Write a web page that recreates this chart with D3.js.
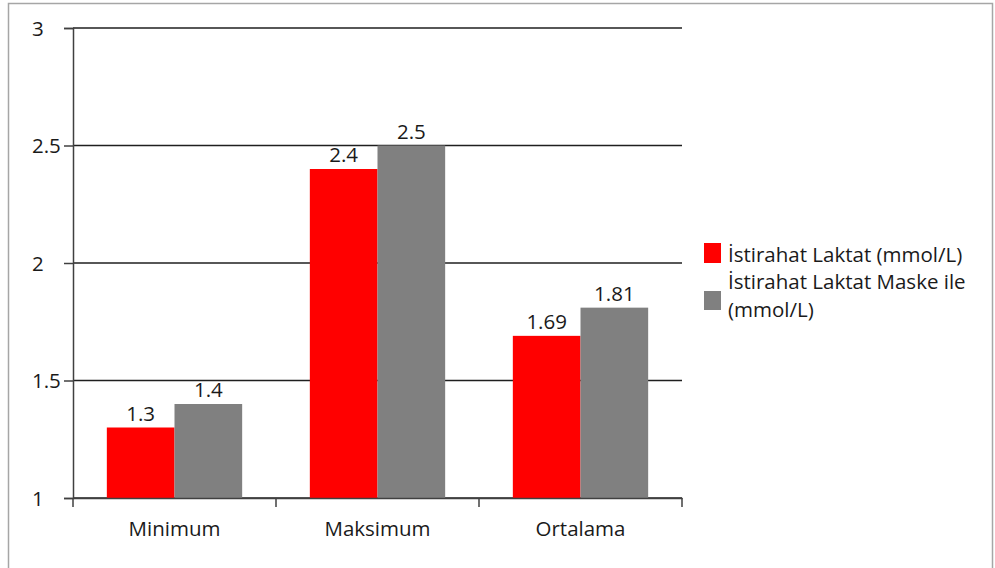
<!DOCTYPE html>
<html>
<head>
<meta charset="utf-8">
<script src="https://cdn.jsdelivr.net/npm/d3@7"></script>
<style>
  html, body { margin: 0; padding: 0; background: #fff; }
  svg { display: block; }
  text { font-family: "Open Sans", sans-serif; fill: #1a1a1a; }
</style>
</head>
<body>
<svg id="chart" width="995" height="568"></svg>
<script>
// Lactate values per statistic
const categories = ["Minimum", "Maksimum", "Ortalama"];
const seriesNames = ["İstirahat Laktat (mmol/L)", "İstirahat Laktat Maske ile (mmol/L)"];
const restLactate = [1.3, 2.4, 1.69];
const maskLactate = [1.4, 2.5, 1.81];
const yTicks = [1, 1.5, 2, 2.5, 3];
const colors = ["#ff0000", "#808080"];

const FONT = "'Open Sans', sans-serif";
const FS = 20.5;

const svg = d3.select("#chart");

// outer frame
svg.append("path")
  .attr("d", "M8.5,568 V3.5 H992.5 V568")
  .attr("fill", "none")
  .attr("stroke", "#a6a6a6")
  .attr("stroke-width", 1.5);

const plot = { left: 73, right: 682, top: 28, bottom: 498 };

const x = d3.scaleBand().domain(categories).range([plot.left, plot.right]);
const y = d3.scaleLinear().domain([1, 3]).range([plot.bottom, plot.top]);

const g = svg.append("g");

// horizontal gridlines
g.selectAll("line.grid")
  .data(yTicks)
  .join("line")
  .attr("class", "grid")
  .attr("x1", plot.left).attr("x2", plot.right)
  .attr("y1", d => y(d)).attr("y2", d => y(d))
  .attr("stroke", "#1f1f1f")
  .attr("stroke-width", 1.5);

// y axis
const yAxis = g.append("g")
  .attr("transform", `translate(${plot.left},0)`)
  .call(d3.axisLeft(y).tickValues(yTicks).tickSize(9).tickFormat(d3.format("")));
yAxis.select(".domain").attr("stroke", "#404040").attr("stroke-width", 1.5);
yAxis.selectAll(".tick line").attr("stroke", "#404040").attr("stroke-width", 1.5);
yAxis.selectAll(".tick text")
  .attr("font-size", FS).attr("font-family", FONT).attr("fill", "#1a1a1a")
  .attr("text-anchor", "start").attr("x", 32 - plot.left).attr("dy", "0.36em");

// grouped bars
const inner = d3.scaleBand().domain([0, 1]).range([0, x.bandwidth()]).paddingInner(0).paddingOuter(0.5);
const seriesData = [restLactate, maskLactate];

seriesData.forEach((vals, si) => {
  g.selectAll(`rect.s${si}`)
    .data(vals)
    .join("rect")
    .attr("class", `s${si}`)
    .attr("x", (d, i) => x(categories[i]) + inner(si))
    .attr("width", inner.bandwidth())
    .attr("y", d => y(d))
    .attr("height", d => y(1) - y(d))
    .attr("fill", colors[si]);

  g.selectAll(`text.v${si}`)
    .data(vals)
    .join("text")
    .attr("class", `v${si}`)
    .attr("x", (d, i) => x(categories[i]) + inner(si) + inner.bandwidth() / 2)
    .attr("y", d => y(d) - 7)
    .attr("text-anchor", "middle")
    .attr("font-size", FS)
    .text(d => d);
});

// x axis
const xAxis = g.append("g")
  .attr("transform", `translate(0,${plot.bottom})`)
  .call(d3.axisBottom(x).tickSize(0).tickPadding(23));
xAxis.select(".domain").attr("stroke", "#404040").attr("stroke-width", 1.5);
xAxis.selectAll(".tick text").attr("font-size", FS).attr("font-family", FONT).attr("fill", "#1a1a1a");

// category boundary ticks
const bounds = categories.map(c => x(c)).concat([plot.right]);
g.selectAll("line.xt")
  .data(bounds)
  .join("line")
  .attr("class", "xt")
  .attr("x1", d => d).attr("x2", d => d)
  .attr("y1", plot.bottom).attr("y2", plot.bottom + 9)
  .attr("stroke", "#404040")
  .attr("stroke-width", 1.5);

// legend
const legend = svg.append("g");
const lx = 704;
legend.append("rect").attr("x", lx).attr("y", 243).attr("width", 17).attr("height", 20).attr("fill", colors[0]);
legend.append("text").attr("x", lx + 24).attr("y", 262).attr("font-size", FS).text(seriesNames[0]);
legend.append("rect").attr("x", lx).attr("y", 291).attr("width", 17).attr("height", 19).attr("fill", colors[1]);
legend.append("text").attr("x", lx + 24).attr("y", 289).attr("font-size", FS).text("İstirahat Laktat Maske ile");
legend.append("text").attr("x", lx + 24).attr("y", 317).attr("font-size", FS).text("(mmol/L)");
</script>
</body>
</html>
